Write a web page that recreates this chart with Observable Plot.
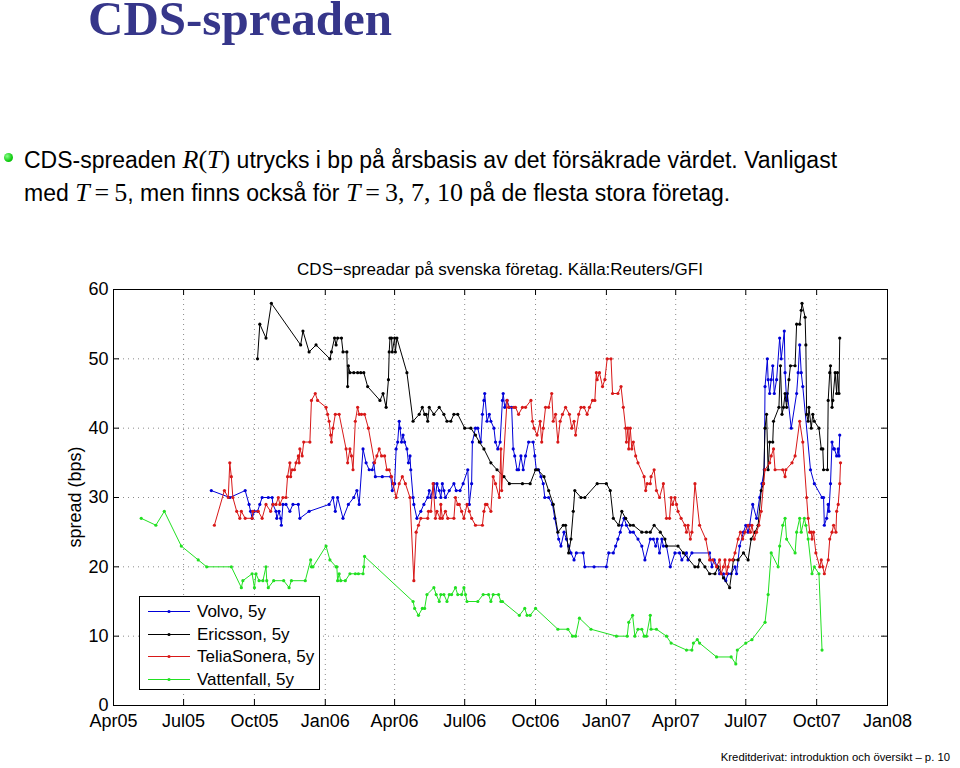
<!DOCTYPE html>
<html><head><meta charset="utf-8">
<script src="https://cdn.jsdelivr.net/npm/d3@7"></script>
<script src="https://cdn.jsdelivr.net/npm/@observablehq/plot@0.6"></script>
<style>
html,body{margin:0;padding:0;background:#fff}
body{width:960px;height:768px;position:relative;overflow:hidden;font-family:"Liberation Sans",Arial,sans-serif;color:#000}
#slideTitle{position:absolute;left:88px;top:0px;font:bold 49px/37px "Liberation Serif",serif;color:#36368a;white-space:nowrap}
#bulletDot{position:absolute;left:4px;top:153px;width:9px;height:9px;border-radius:50%;background:radial-gradient(circle at 35% 35%,#8f8,#1c1 60%,#0a0)}
.bl{position:absolute;left:24px;font-size:23px;line-height:23px;white-space:nowrap}
.m{font-family:"Liberation Serif",serif;font-size:26px}
.mi{font-family:"Liberation Serif",serif;font-style:italic;font-size:26px}
.eq{font-family:"Liberation Serif",serif;font-size:26px;margin:0 5px}
#chartTitle{position:absolute;left:113px;width:774px;top:261px;text-align:center;font-size:17px;line-height:17px;white-space:nowrap}
#ylab{position:absolute;left:75px;top:497px;transform:translate(-50%,-50%) rotate(-90deg);font-size:18px;white-space:nowrap}
#chart{position:absolute;left:0;top:250px}
#legend{position:absolute;left:139px;top:596px;width:179px;height:92px;border:1px solid #000;background:#fff}
.lr{position:absolute;left:0;height:20px;width:179px}
.lr svg{position:absolute;left:8px;top:0}
.lr span{position:absolute;left:57px;top:1px;font-size:17px;line-height:17px;white-space:nowrap}
#footer{position:absolute;right:10px;top:751px;font-size:11.3px;line-height:12px;white-space:nowrap}
</style></head>
<body>
<div id="slideTitle">CDS-spreaden</div>
<div id="bulletDot"></div>
<div class="bl" style="top:148px">CDS-spreaden <span class="mi">R</span><span class="m">(</span><span class="mi">T</span><span class="m">)</span> utrycks i bp på årsbasis av det försäkrade värdet. Vanligast</div>
<div class="bl" style="top:181px">med <span class="mi">T</span><span class="eq">=</span><span class="m">5</span>, men finns också för <span class="mi">T</span><span class="eq">=</span><span class="m">3, 7, 10</span> på de flesta stora företag.</div>
<div id="chartTitle">CDS−spreadar på svenska företag. Källa:Reuters/GFI</div>
<div id="chart"></div>
<div id="ylab">spread (bps)</div>
<div id="legend"></div>
<div id="footer">Kreditderivat: introduktion och översikt – p. 10</div>
<script>
// ---- data ----
const seriesNames = ["Volvo, 5y", "Ericsson, 5y", "TeliaSonera, 5y", "Vattenfall, 5y"];
const seriesColors = ["#0000d8", "#000000", "#d81818", "#22e022"];
const xTickLabels = ["2005-04-01","2005-07-01","2005-10-01","2006-01-01","2006-04-01","2006-07-01","2006-10-01","2007-01-01","2007-04-01","2007-07-01","2007-10-01","2008-01-01"];
const yTickValues = [0, 10, 20, 30, 40, 50, 60];

const volvo = [
["2005-08-06",31],["2005-08-30",30],["2005-09-19",31],["2005-09-24",29],["2005-09-26",28],["2005-09-28",27],["2005-10-01",28],["2005-10-05",28],["2005-10-08",29],["2005-10-11",30],["2005-10-19",30],["2005-10-24",30],["2005-10-25",29],["2005-10-29",28],["2005-10-30",27],["2005-11-02",28],["2005-11-04",27],["2005-11-05",26],["2005-11-07",29],["2005-11-11",29],["2005-11-16",28],["2005-11-20",29],["2005-11-27",29],["2005-11-29",27],["2005-12-11",28],["2006-01-06",29],["2006-01-11",30],["2006-01-14",28],["2006-01-17",30],["2006-01-24",27],["2006-01-31",29],["2006-02-07",30],["2006-02-11",31],["2006-02-14",29],["2006-02-19",37],["2006-02-23",35],["2006-02-27",34],["2006-03-03",34],["2006-03-05",35],["2006-03-07",33],["2006-03-16",33],["2006-03-27",33],["2006-03-29",31],["2006-04-01",32],["2006-04-03",37],["2006-04-05",38],["2006-04-07",41],["2006-04-08",40],["2006-04-10",38],["2006-04-12",39],["2006-04-14",38],["2006-04-17",37],["2006-04-19",35],["2006-04-21",36],["2006-04-22",34],["2006-04-25",30],["2006-04-26",29],["2006-04-30",27],["2006-05-05",28],["2006-05-09",29],["2006-05-14",30],["2006-05-16",31],["2006-05-18",30],["2006-05-22",32],["2006-05-24",30],["2006-05-26",32],["2006-05-29",31],["2006-05-31",30],["2006-06-02",32],["2006-06-04",31],["2006-06-06",30],["2006-06-11",31],["2006-06-17",32],["2006-06-20",31],["2006-06-25",31],["2006-06-29",32],["2006-07-05",34],["2006-07-07",29],["2006-07-10",32],["2006-07-11",38],["2006-07-15",40],["2006-07-18",40],["2006-07-22",38],["2006-07-24",42],["2006-07-26",44],["2006-07-27",45],["2006-07-30",41],["2006-08-02",42],["2006-08-04",41],["2006-08-08",40],["2006-08-10",38],["2006-08-13",37],["2006-08-16",38],["2006-08-19",44],["2006-08-20",45],["2006-08-22",43],["2006-08-25",44],["2006-08-28",43],["2006-08-31",43],["2006-09-02",37],["2006-09-04",36],["2006-09-07",34],["2006-09-09",34],["2006-09-12",36],["2006-09-15",34],["2006-09-18",36],["2006-09-22",38],["2006-09-28",38],["2006-09-30",36],["2006-10-02",34],["2006-10-05",34],["2006-10-08",33],["2006-10-11",32],["2006-10-13",30],["2006-10-18",30],["2006-10-23",29],["2006-10-26",27],["2006-10-31",24],["2006-11-03",23],["2006-11-07",25],["2006-11-10",24],["2006-11-13",23],["2006-11-16",22],["2006-11-20",21],["2006-11-23",22],["2006-12-02",22],["2006-12-04",20],["2006-12-16",20],["2007-01-01",20],["2007-01-04",22],["2007-01-10",22],["2007-01-13",23],["2007-01-16",24],["2007-01-19",25],["2007-01-21",26],["2007-01-24",27],["2007-01-27",26],["2007-02-01",25],["2007-02-05",25],["2007-02-11",24],["2007-02-16",23],["2007-02-20",21],["2007-02-27",24],["2007-03-03",24],["2007-03-06",23],["2007-03-08",24],["2007-03-11",22],["2007-03-14",24],["2007-03-16",23],["2007-03-20",23],["2007-03-25",20],["2007-03-31",22],["2007-04-06",22],["2007-04-09",21],["2007-04-15",22],["2007-04-17",21],["2007-04-22",22],["2007-05-15",22],["2007-05-18",20],["2007-05-21",21],["2007-05-25",20],["2007-05-28",19],["2007-06-02",19],["2007-06-05",18],["2007-06-08",19],["2007-06-12",19],["2007-06-17",20],["2007-06-19",19],["2007-06-23",23],["2007-06-28",25],["2007-07-01",26],["2007-07-04",25],["2007-07-06",26],["2007-07-10",29],["2007-07-15",27],["2007-07-19",30],["2007-07-22",32],["2007-07-25",34],["2007-07-26",46],["2007-07-29",50],["2007-07-30",47],["2007-08-01",45],["2007-08-03",47],["2007-08-05",49],["2007-08-07",45],["2007-08-10",47],["2007-08-14",53],["2007-08-16",50],["2007-08-20",54],["2007-08-21",48],["2007-08-23",44],["2007-08-24",45],["2007-08-29",40],["2007-09-05",45],["2007-09-07",48],["2007-09-09",52],["2007-09-11",48],["2007-09-13",46],["2007-09-23",34],["2007-09-28",32],["2007-10-08",30],["2007-10-10",30],["2007-10-11",26],["2007-10-14",27],["2007-10-16",29],["2007-10-17",28],["2007-10-19",32],["2007-10-21",38],["2007-10-23",37],["2007-10-24",37],["2007-10-27",36],["2007-10-29",37],["2007-10-30",36],["2007-10-31",39]
];

const ericsson = [
["2005-10-05",50],["2005-10-08",55],["2005-10-16",53],["2005-10-23",58],["2005-11-30",52],["2005-12-03",54],["2005-12-11",51],["2005-12-20",52],["2006-01-07",50],["2006-01-09",51],["2006-01-13",53],["2006-01-15",52],["2006-01-17",53],["2006-01-22",53],["2006-01-24",51],["2006-01-29",51],["2006-01-30",46],["2006-01-31",49],["2006-02-02",48],["2006-02-07",48],["2006-02-12",48],["2006-02-16",48],["2006-02-20",48],["2006-02-25",46],["2006-03-13",44],["2006-03-17",45],["2006-03-21",43],["2006-03-24",47],["2006-03-25",51],["2006-03-26",53],["2006-03-28",53],["2006-03-29",51],["2006-04-01",53],["2006-04-02",51],["2006-04-04",53],["2006-04-17",48],["2006-04-25",41],["2006-05-03",42],["2006-05-07",43],["2006-05-10",42],["2006-05-12",42],["2006-05-14",41],["2006-05-16",43],["2006-05-22",42],["2006-05-29",43],["2006-06-04",42],["2006-06-08",41],["2006-06-13",41],["2006-06-17",42],["2006-06-22",42],["2006-07-01",40],["2006-07-09",40],["2006-07-15",39],["2006-07-20",38],["2006-07-26",37],["2006-08-04",35],["2006-08-12",34],["2006-08-21",33],["2006-08-28",32],["2006-09-14",32],["2006-09-24",32],["2006-10-01",34],["2006-10-04",34],["2006-10-12",33],["2006-10-18",31],["2006-10-24",29],["2006-10-30",25],["2006-11-06",26],["2006-11-09",26],["2006-11-13",22],["2006-11-16",24],["2006-11-19",28],["2006-11-21",31],["2006-11-29",30],["2006-12-04",30],["2006-12-20",32],["2007-01-01",32],["2007-01-06",31],["2007-01-10",27],["2007-01-17",26],["2007-01-21",28],["2007-01-26",27],["2007-02-01",26],["2007-02-05",26],["2007-02-16",25],["2007-02-22",25],["2007-02-27",25],["2007-03-04",26],["2007-03-12",25],["2007-03-18",24],["2007-03-20",23],["2007-04-04",23],["2007-04-11",22],["2007-04-26",20],["2007-04-30",20],["2007-05-02",21],["2007-05-09",20],["2007-05-15",19],["2007-05-22",19],["2007-05-26",20],["2007-06-02",18.4],["2007-06-10",17],["2007-06-15",21],["2007-06-21",21],["2007-06-28",22],["2007-07-04",21],["2007-07-08",24],["2007-07-13",25],["2007-07-17",26],["2007-07-21",31],["2007-07-24",32],["2007-07-26",40],["2007-07-28",42],["2007-07-30",34],["2007-08-01",38],["2007-08-05",38],["2007-08-06",41],["2007-08-13",43],["2007-08-15",49],["2007-08-17",42],["2007-08-19",43],["2007-08-21",45],["2007-08-23",43],["2007-08-26",47],["2007-08-28",49],["2007-09-03",49],["2007-09-05",55],["2007-09-09",55],["2007-09-11",57],["2007-09-12",58],["2007-09-16",56],["2007-09-17",52],["2007-09-18",42],["2007-09-20",41],["2007-09-21",43],["2007-09-24",40],["2007-09-26",42],["2007-09-28",41],["2007-10-04",40],["2007-10-07",37],["2007-10-09",37],["2007-10-10",34],["2007-10-15",34],["2007-10-16",44],["2007-10-18",48],["2007-10-19",49],["2007-10-21",43],["2007-10-22",44],["2007-10-25",48],["2007-10-27",45],["2007-10-28",48],["2007-10-30",45],["2007-10-31",53]
];

const telia = [
["2005-08-10",26],["2005-08-23",31],["2005-08-28",30],["2005-08-30",35],["2005-09-01",33],["2005-09-03",30],["2005-09-08",28],["2005-09-12",27],["2005-09-14",28],["2005-09-19",27],["2005-09-28",27],["2005-09-29",28],["2005-10-06",28],["2005-10-11",27],["2005-10-16",29],["2005-10-22",28],["2005-10-25",29],["2005-10-29",29],["2005-11-01",30],["2005-11-03",29],["2005-11-07",30],["2005-11-11",30],["2005-11-13",33],["2005-11-16",35],["2005-11-17",33],["2005-11-19",34],["2005-11-22",34],["2005-11-24",35],["2005-11-27",36],["2005-11-28",35],["2005-11-29",37],["2005-12-02",36],["2005-12-04",38],["2005-12-12",38],["2005-12-14",44],["2005-12-19",45],["2005-12-22",44],["2006-01-02",43],["2006-01-04",42],["2006-01-06",41],["2006-01-08",39],["2006-01-09",38],["2006-01-11",40],["2006-01-14",42],["2006-01-19",42],["2006-01-28",37],["2006-01-30",35],["2006-02-02",37],["2006-02-04",36],["2006-02-06",34],["2006-02-09",41],["2006-02-12",43],["2006-02-14",42],["2006-02-17",42],["2006-02-21",42],["2006-02-26",40],["2006-03-06",35],["2006-03-09",36],["2006-03-12",37],["2006-03-15",36],["2006-03-19",36],["2006-03-22",34],["2006-03-25",34],["2006-03-28",33],["2006-03-30",32],["2006-04-03",30],["2006-04-07",32],["2006-04-11",33],["2006-04-15",32],["2006-04-21",30],["2006-04-26",18],["2006-04-29",25],["2006-05-02",26],["2006-05-05",27],["2006-05-14",27],["2006-05-15",28],["2006-05-18",28],["2006-05-21",32],["2006-05-24",27],["2006-05-26",28],["2006-05-30",27],["2006-05-31",29],["2006-06-02",27],["2006-06-06",28],["2006-06-09",27],["2006-06-17",27],["2006-06-19",30],["2006-06-22",29],["2006-06-24",29],["2006-06-27",28],["2006-06-30",27],["2006-07-04",29],["2006-07-07",28],["2006-07-10",27],["2006-07-15",26],["2006-07-24",26],["2006-07-26",28],["2006-07-28",29],["2006-07-30",29],["2006-08-04",28],["2006-08-07",33],["2006-08-10",32],["2006-08-15",30],["2006-08-17",37],["2006-08-18",31],["2006-08-25",44],["2006-08-27",43],["2006-09-03",43],["2006-09-05",43],["2006-09-09",42],["2006-09-14",43],["2006-09-18",43],["2006-09-25",44],["2006-09-27",41],["2006-09-29",40],["2006-10-03",39],["2006-10-07",41],["2006-10-09",38],["2006-10-11",40],["2006-10-14",43],["2006-10-18",43],["2006-10-22",45],["2006-10-24",41],["2006-10-27",42],["2006-10-30",38],["2006-11-02",41],["2006-11-05",42],["2006-11-09",43],["2006-11-14",42],["2006-11-17",40],["2006-11-20",41],["2006-11-22",39],["2006-11-26",42],["2006-11-29",43],["2006-12-03",43],["2006-12-07",42],["2006-12-10",43],["2006-12-14",44],["2006-12-17",44],["2006-12-19",48],["2006-12-20",47],["2006-12-23",48],["2006-12-27",46],["2006-12-30",47],["2007-01-02",50],["2007-01-07",50],["2007-01-09",45],["2007-01-16",45],["2007-01-20",46],["2007-01-23",43],["2007-01-26",40],["2007-01-27",38],["2007-01-29",40],["2007-01-30",37],["2007-02-01",40],["2007-02-03",37],["2007-02-05",38],["2007-02-08",36],["2007-02-11",35],["2007-02-19",33],["2007-02-21",31],["2007-02-23",32],["2007-02-27",32],["2007-02-28",33],["2007-03-04",34],["2007-03-07",31],["2007-03-11",30],["2007-03-16",32],["2007-03-20",27],["2007-03-24",27],["2007-03-26",30],["2007-03-28",29],["2007-03-31",30],["2007-04-02",29],["2007-04-04",28],["2007-04-08",27],["2007-04-13",26],["2007-04-15",25],["2007-04-17",26],["2007-04-20",24],["2007-04-22",25],["2007-04-26",32],["2007-05-02",26],["2007-05-10",24],["2007-05-15",21],["2007-05-19",21],["2007-05-24",20],["2007-05-28",21],["2007-05-30",19],["2007-06-02",20],["2007-06-04",21],["2007-06-06",19],["2007-06-08",20],["2007-06-10",21],["2007-06-14",21],["2007-06-17",22],["2007-06-21",24],["2007-06-24",25],["2007-06-27",24],["2007-06-30",25],["2007-07-04",26],["2007-07-07",25],["2007-07-09",26],["2007-07-12",24],["2007-07-15",25],["2007-07-18",26],["2007-07-21",28],["2007-07-24",32],["2007-07-26",34],["2007-08-01",35],["2007-08-03",36],["2007-08-06",37],["2007-08-08",34],["2007-08-18",34],["2007-08-21",33],["2007-08-22",34],["2007-08-30",35],["2007-09-03",36],["2007-09-09",41],["2007-09-13",38],["2007-09-18",30],["2007-09-20",27],["2007-09-22",25],["2007-09-24",25],["2007-09-25",24],["2007-09-27",25],["2007-09-30",22],["2007-10-05",20],["2007-10-07",21],["2007-10-09",20],["2007-10-11",19],["2007-10-16",21],["2007-10-18",24],["2007-10-21",25],["2007-10-23",26],["2007-10-26",25],["2007-10-27",28],["2007-10-29",29],["2007-10-31",32],["2007-11-01",35]
];

const vattenfall = [
["2005-05-07",27],["2005-05-26",26],["2005-06-06",28],["2005-06-28",23],["2005-07-20",21],["2005-07-31",20],["2005-09-01",20],["2005-09-14",17],["2005-09-16",18],["2005-09-28",19],["2005-10-01",17],["2005-10-03",19],["2005-10-07",18],["2005-10-12",18],["2005-10-16",20],["2005-10-17",18],["2005-10-19",17],["2005-10-26",18],["2005-11-08",18],["2005-11-15",17],["2005-11-18",18],["2005-12-06",18],["2005-12-13",21],["2005-12-14",20],["2005-12-16",20],["2006-01-02",23],["2006-01-07",21],["2006-01-15",20],["2006-01-16",20],["2006-01-17",18],["2006-01-19",19],["2006-01-21",18],["2006-01-27",18],["2006-02-02",19],["2006-02-09",19],["2006-02-13",19],["2006-02-19",19],["2006-02-20",20],["2006-02-21",21.5],["2006-04-25",15],["2006-04-27",14],["2006-05-02",13],["2006-05-07",14],["2006-05-10",14],["2006-05-13",16],["2006-05-22",17],["2006-05-25",16],["2006-05-29",15],["2006-05-31",16],["2006-06-04",16],["2006-06-08",15],["2006-06-11",16],["2006-06-14",16],["2006-06-19",17],["2006-06-22",16],["2006-06-27",16],["2006-06-30",17],["2006-07-02",16],["2006-07-04",15],["2006-07-18",15],["2006-07-25",16],["2006-08-01",16],["2006-08-04",15],["2006-08-07",16],["2006-08-14",16],["2006-08-17",15],["2006-08-19",15],["2006-09-10",13],["2006-09-17",14],["2006-09-20",13],["2006-09-24",13],["2006-10-01",14],["2006-10-30",11],["2006-11-12",11],["2006-11-18",10],["2006-11-22",10],["2006-11-27",12.6],["2006-12-12",11],["2007-01-14",10],["2007-01-28",10],["2007-01-30",12],["2007-02-04",13],["2007-02-07",10],["2007-02-11",11],["2007-02-16",11],["2007-02-19",10],["2007-02-22",10],["2007-02-27",13],["2007-02-28",11],["2007-03-07",11],["2007-03-20",10],["2007-03-26",9],["2007-04-15",8],["2007-04-22",8],["2007-04-24",9],["2007-04-29",9.5],["2007-05-02",9],["2007-05-24",7],["2007-06-12",7],["2007-06-18",6],["2007-06-20",8],["2007-07-01",9],["2007-07-09",9.5],["2007-07-26",12],["2007-07-30",16],["2007-08-03",22],["2007-08-12",20],["2007-08-14",23],["2007-08-18",26],["2007-08-21",27],["2007-08-23",24],["2007-09-03",22],["2007-09-05",25],["2007-09-09",27],["2007-09-11",25],["2007-09-15",27],["2007-09-17",26],["2007-09-20",24],["2007-09-25",19],["2007-09-28",20],["2007-10-04",19],["2007-10-08",8]
];

const allSeries = [volvo, ericsson, telia, vattenfall];

// ---- chart ----
const xTicks = xTickLabels.map(s => new Date(s));
const toRows = (arr, i) => arr.map(([d, v]) => ({date: new Date(d), value: v, series: i}));

const marks = [
  Plot.ruleX(xTicks.slice(1, -1), {x: d => d, stroke: "#8a8a8a", strokeDasharray: "1,4"}),
  Plot.ruleY(yTickValues.slice(1, -1), {y: d => d, stroke: "#8a8a8a", strokeDasharray: "1,4"}),
  Plot.ruleX(xTicks, {x: d => d, stroke: "#000", insetTop: 410}),
  Plot.ruleX(xTicks, {x: d => d, stroke: "#000", insetBottom: 410}),
  Plot.ruleY(yTickValues, {y: d => d, stroke: "#000", insetRight: 768}),
  Plot.ruleY(yTickValues, {y: d => d, stroke: "#000", insetLeft: 768}),
  Plot.frame({stroke: "#000", strokeWidth: 1})
];
allSeries.forEach((arr, i) => {
  const rows = toRows(arr, i);
  marks.push(Plot.line(rows, {x: "date", y: "value", stroke: seriesColors[i], strokeWidth: 1}));
  marks.push(Plot.dot(rows, {x: "date", y: "value", fill: seriesColors[i], r: 1.6, stroke: "none"}));
});
marks.push(Plot.axisX({ticks: xTicks, tickSize: 0, tickPadding: 9, tickFormat: d3.utcFormat("%b%y"), label: null, fontSize: 18}));
marks.push(Plot.axisY({ticks: yTickValues, tickSize: 0, tickPadding: 5, label: null, fontSize: 18}));

const chart = Plot.plot({
  width: 960, height: 490,
  marginLeft: 113, marginRight: 73, marginTop: 39, marginBottom: 35,
  x: {type: "utc", domain: [xTicks[0], xTicks[xTicks.length - 1]]},
  y: {domain: [0, 60]},
  style: {fontFamily: "'Liberation Sans', Arial, sans-serif", fontSize: "18px", background: "transparent", color: "#000", overflow: "visible"},
  marks
});
document.getElementById("chart").appendChild(chart);

// ---- legend ----
const legend = document.getElementById("legend");
seriesNames.forEach((name, i) => {
  const row = document.createElement("div");
  row.className = "lr";
  row.style.top = (5 + i * 22.5) + "px";
  row.innerHTML = `<svg width="44" height="20"><line x1="0" y1="9.5" x2="42" y2="9.5" stroke="${seriesColors[i]}" stroke-width="1"/><circle cx="21" cy="9.5" r="1.6" fill="${seriesColors[i]}"/></svg><span>${name}</span>`;
  legend.appendChild(row);
});
</script>
</body></html>
